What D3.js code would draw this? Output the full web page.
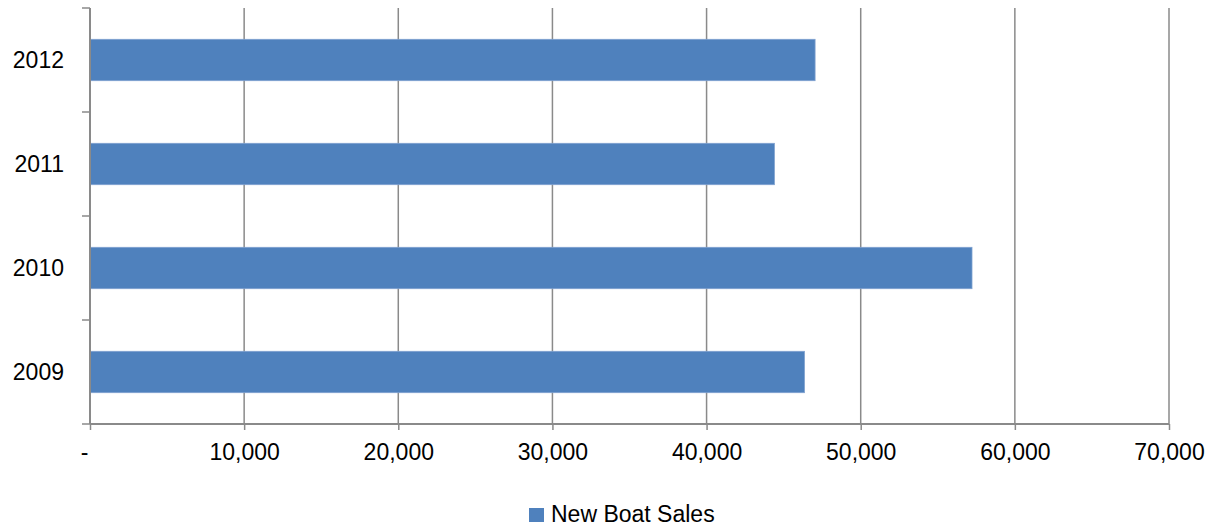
<!DOCTYPE html>
<html>
<head>
<meta charset="utf-8">
<script src="https://cdn.jsdelivr.net/npm/d3@7"></script>
<style>
  html, body { margin: 0; padding: 0; background: #fff; }
  svg { display: block; font-family: "Liberation Sans", Arial, sans-serif; }
</style>
</head>
<body>
<svg id="chart" width="1217" height="529"></svg>
<script>
const categories = ["2009", "2010", "2011", "2012"];
const seriesName = "New Boat Sales";
const values = [46350, 57220, 44400, 47040];
const xTicks = [0, 10000, 20000, 30000, 40000, 50000, 60000, 70000];

(function () {
const svg = d3.select("#chart");
const mLeft = 90, mRight = 1169, mTop = 8, mBottom = 424;
const gridColor = "#8a8a8a";
const barColor = "#4F81BD";

const x = d3.scaleLinear().domain([0, 70000]).range([mLeft, mRight]);
const y = d3.scaleBand().domain(categories.slice().reverse()).range([mTop, mBottom])
  .paddingInner(0.602).paddingOuter(0.301);

// gridlines
svg.append("g").selectAll("line").data(xTicks.filter(d => d > 0)).join("line")
  .attr("x1", d => x(d)).attr("x2", d => x(d))
  .attr("y1", mTop).attr("y2", mBottom)
  .attr("stroke", gridColor).attr("stroke-width", 1.5);

// bars
svg.append("g").selectAll("rect").data(categories).join("rect")
  .attr("x", x(0))
  .attr("y", d => y(d))
  .attr("width", (d, i) => x(values[i]) - x(0))
  .attr("height", y.bandwidth())
  .attr("fill", barColor)
  .attr("stroke", "#7fa1cf").attr("stroke-width", 0.8);

// x axis
const xAxis = d3.axisBottom(x).tickValues(xTicks).tickSize(6).tickPadding(14)
  .tickFormat(d => d === 0 ? "-" : d3.format(",")(d));
const gx = svg.append("g").attr("transform", `translate(0,${mBottom})`).call(xAxis);
gx.select(".domain").attr("stroke", gridColor).attr("stroke-width", 2).attr("d", `M${mLeft},0H${mRight}`);
gx.selectAll(".tick line").attr("stroke", gridColor).attr("stroke-width", 1.5);
gx.selectAll(".tick text").attr("fill", "#000").style("font-size", "23px")
  .style("font-family", "'Liberation Sans', Arial, sans-serif")
  .attr("dx", d => d === 0 ? -6 : 0);

// y axis
const yBoundaries = d3.range(categories.length + 1).map(i => mTop + i * y.step());
const gy = svg.append("g");
gy.append("line").attr("x1", mLeft).attr("x2", mLeft).attr("y1", mTop).attr("y2", mBottom)
  .attr("stroke", gridColor).attr("stroke-width", 2);
gy.selectAll("line.tk").data(yBoundaries).join("line").attr("class", "tk")
  .attr("x1", mLeft - 8).attr("x2", mLeft).attr("y1", d => d).attr("y2", d => d)
  .attr("stroke", gridColor).attr("stroke-width", 1.5);
gy.selectAll("text").data(categories).join("text")
  .attr("x", 64).attr("y", d => y(d) + y.bandwidth() / 2)
  .attr("dy", "0.35em").attr("text-anchor", "end")
  .style("font-size", "23px").attr("fill", "#000").text(d => d);

// legend
const lg = svg.append("g");
lg.append("rect").attr("x", 529).attr("y", 508).attr("width", 15).attr("height", 14).attr("fill", barColor);
lg.append("text").attr("x", 551).attr("y", 522).style("font-size", "23px").attr("fill", "#000").text(seriesName);
})();
</script>
</body>
</html>
